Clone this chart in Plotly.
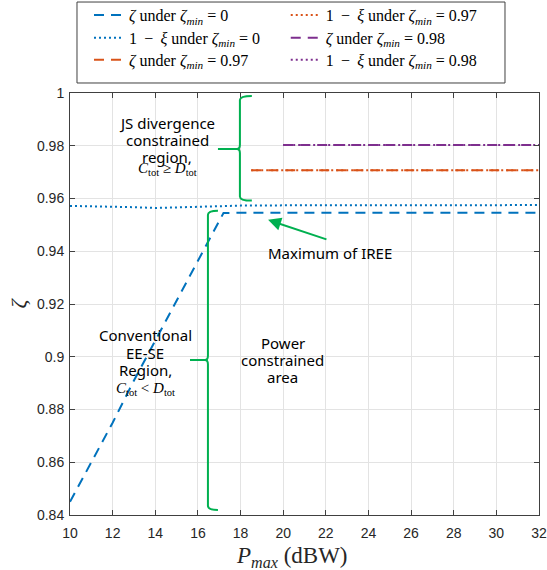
import plotly.graph_objects as go

# Transmit power axis (dBW)
p_ramp = [10, 11, 12, 13, 14, 15, 16, 17, 17.2, 18, 19, 20, 22, 24, 26, 28, 30, 32]
zeta_min0 = [0.845, 0.860, 0.875, 0.891, 0.906, 0.921, 0.936, 0.951, 0.9545,
             0.9546, 0.9546, 0.9546, 0.9546, 0.9546, 0.9546, 0.9546, 0.9546, 0.9546]

p_full = [10, 11, 12, 13, 14, 15, 16, 17, 18, 20, 22, 24, 26, 28, 30, 32]
xi_min0 = [0.9572, 0.9571, 0.9570, 0.9567, 0.9564, 0.9566, 0.9569, 0.9571,
           0.9573, 0.9574, 0.9574, 0.9575, 0.9575, 0.9575, 0.9575, 0.9575]

p_097 = [18.5, 20, 22, 24, 26, 28, 30, 32]
zeta_min097 = [0.9707] * len(p_097)
xi_min097 = [0.9707] * len(p_097)

p_098 = [20, 22, 24, 26, 28, 30, 32]
zeta_min098 = [0.9803] * len(p_098)
xi_min098 = [0.9803] * len(p_098)

x_ticks = [10, 12, 14, 16, 18, 20, 22, 24, 26, 28, 30, 32]
y_ticks = [0.84, 0.86, 0.88, 0.9, 0.92, 0.94, 0.96, 0.98, 1]
y_tick_text = ["0.84", "0.86", "0.88", "0.9", "0.92", "0.94", "0.96", "0.98", "1"]

BLUE = "#0072BD"
ORANGE = "#D95319"
PURPLE = "#7E2F8E"
GREEN = "#00B050"
DASH = "10px,7px"
DOT = "2px,3px"
LW = 2

SANS = "Noto Sans"
SERIF = "Liberation Serif"

zm = "<i>ζ</i><sub><i>min</i></sub>"
one_minus_xi = "1 \u2009−\u2009 <i>ξ</i>"

# (x, y, colour, dash, label, legend id, legend x, legend y) -- one legend per entry,
# laid out as two columns of three rows
traces = [
    (p_ramp, zeta_min0, BLUE, DASH, f"<i>ζ</i> under {zm} = 0", "legend", 0.0405, 1.1845),
    (p_full, xi_min0, BLUE, DOT, f"{one_minus_xi} under {zm} = 0", "legend2", 0.0405, 1.1305),
    (p_097, zeta_min097, ORANGE, DASH, f"<i>ζ</i> under {zm} = 0.97", "legend3", 0.0405, 1.0783),
    (p_097, xi_min097, ORANGE, DOT, f"{one_minus_xi} under {zm} = 0.97", "legend4", 0.460, 1.1845),
    (p_098, zeta_min098, PURPLE, DASH, f"<i>ζ</i> under {zm} = 0.98", "legend5", 0.460, 1.1305),
    (p_098, xi_min098, PURPLE, DOT, f"{one_minus_xi} under {zm} = 0.98", "legend6", 0.460, 1.0783),
]

fig = go.Figure()
legends = {}
for xs, ys, col, dash, name, leg, lx, ly in traces:
    fig.add_trace(go.Scatter(x=xs, y=ys, mode="lines", name=name, legend=leg,
                             line=dict(color=col, width=LW, dash=dash)))
    legends[leg] = dict(
        x=lx, y=ly, xanchor="left", yanchor="middle", orientation="v",
        xref="paper", yref="paper", bgcolor="rgba(0,0,0,0)", borderwidth=0,
        font=dict(family=SERIF, size=16, color="black"),
        itemclick=False, itemdoubleclick=False,
    )


def brace(spine, hook, tip, y_top, y_bot, y_mid, dy=0.0016, dx=0.14):
    """Left-pointing curly brace path in data coordinates."""
    c = spine - dx
    return (f"M{hook},{y_top} Q{spine},{y_top} {spine},{y_top - dy} "
            f"L{spine},{y_mid + dy} Q{spine},{y_mid} {c},{y_mid} L{tip},{y_mid} "
            f"M{c},{y_mid} Q{spine},{y_mid} {spine},{y_mid - dy} "
            f"L{spine},{y_bot + dy} Q{spine},{y_bot} {hook},{y_bot}")


shapes = [
    dict(type="path", xref="x", yref="y",
         path=brace(17.97, 18.53, 16.94, 0.9989, 0.9592, 0.9788),
         line=dict(color=GREEN, width=2)),
    dict(type="path", xref="x", yref="y",
         path=brace(16.47, 16.94, 15.63, 0.9554, 0.8419, 0.8988),
         line=dict(color=GREEN, width=2)),
    # legend frame
    dict(type="rect", xref="paper", yref="paper", x0=0.0149, x1=0.9275,
         y0=1.0237, y1=1.2156, line=dict(color="#404040", width=1),
         fillcolor="white", layer="below"),
]

# region labels: one annotation per text line for tight line spacing
label_blocks = [
    (14.55, [0.98865, 0.98221, 0.97576], ["JS divergence", "constrained", "region,"]),
    (13.52, [0.90826, 0.90143, 0.89499], ["Conventional", "EE-SE", "Region,"]),
    (19.99, [0.90523, 0.89878, 0.89233], ["Power", "constrained", "area"]),
    (22.18, [0.93935], ["Maximum of IREE"]),
]
annotations = []
for x, ys, lines in label_blocks:
    for y, t in zip(ys, lines):
        annotations.append(dict(x=x, y=y, text=t,
                                font=dict(family=SANS, size=15, color="black")))

annotations += [
    dict(x=14.55, y=0.9712, text="<i>C</i><sub>tot</sub> ≥ <i>D</i><sub>tot</sub>",
         font=dict(family=SERIF, size=15, color="black")),
    dict(x=13.52, y=0.8878, text="<i>C</i><sub>tot</sub> &lt; <i>D</i><sub>tot</sub>",
         font=dict(family=SERIF, size=15, color="black")),
    dict(x=19.29, y=0.9519, ax=22.10, ay=0.9443, axref="x", ayref="y",
         text="", showarrow=True, arrowhead=2, arrowsize=1.3, arrowwidth=2,
         arrowcolor=GREEN),
    # x-axis title
    dict(xref="paper", yref="paper", x=0.473, y=-0.099, yanchor="middle",
         text="<i>P</i><sub><i>max</i></sub> (dBW)",
         font=dict(family=SERIF, size=23, color="#262626")),
]
for a in annotations:
    a.setdefault("showarrow", False)
    a.setdefault("xref", "x")
    a.setdefault("yref", "y")

axis_common = dict(
    showline=True, linecolor="#404040", linewidth=1, mirror="ticks",
    ticks="inside", ticklen=5, tickcolor="#404040", automargin=False,
    showgrid=True, gridcolor="#E3E3E3", gridwidth=1, zeroline=False,
    tickfont=dict(family="Liberation Sans", size=14, color="#262626"),
)

fig.update_layout(
    width=547, height=570,
    margin=dict(l=70, r=8, t=93, b=55, autoexpand=False),
    plot_bgcolor="white", paper_bgcolor="white",
    showlegend=True,
    xaxis=dict(range=[10, 32], tickvals=x_ticks, ticklabelstandoff=5,
               **axis_common),
    yaxis=dict(range=[0.84, 1], tickvals=y_ticks, ticktext=y_tick_text,
               ticklabelstandoff=2,
               title=dict(text="<i>ζ</i>",
                          font=dict(family=SERIF, size=22, color="#262626"),
                          standoff=4),
               **axis_common),
    shapes=shapes,
    annotations=annotations,
    **legends,
)

fig.write_html("out.html")
